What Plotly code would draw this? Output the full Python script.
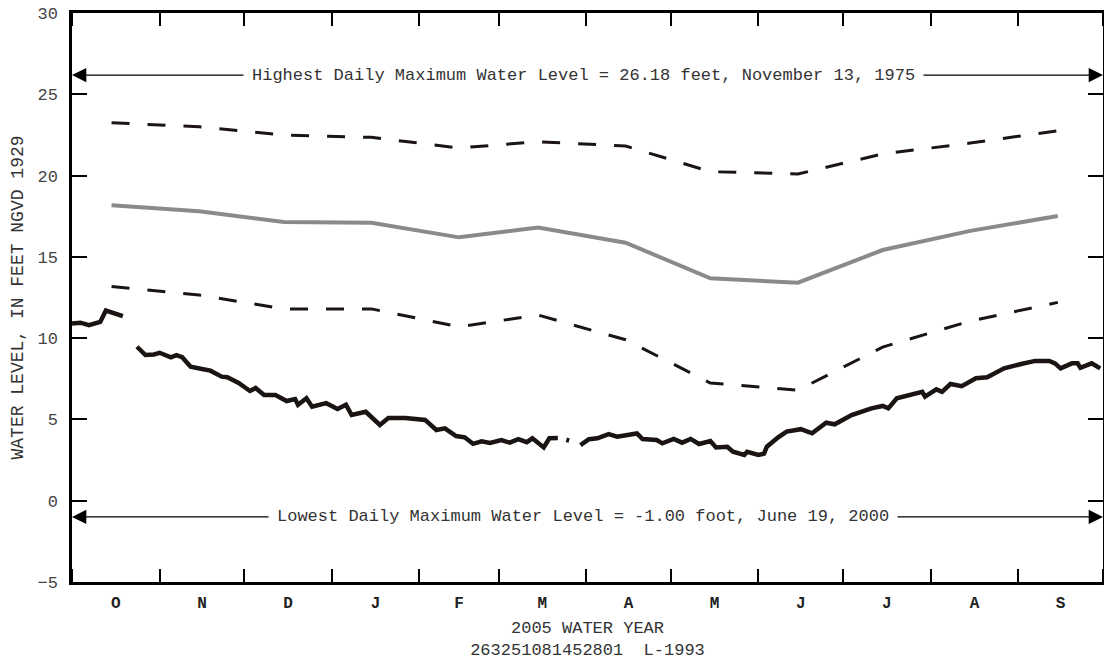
import plotly.graph_objects as go

# daily maximum water level, 2005 water year (None = missing record)
daily_dates = [
    "2004-10-01", "2004-10-04", "2004-10-07", "2004-10-09", "2004-10-11", "2004-10-13",
    "2004-10-16", "2004-10-19", "2004-10-21", "2004-10-24", "2004-10-27", "2004-10-30",
    "2004-11-01", "2004-11-05", "2004-11-07", "2004-11-09", "2004-11-12", "2004-11-16",
    "2004-11-19", "2004-11-23", "2004-11-25", "2004-11-29", "2004-12-03", "2004-12-05",
    "2004-12-08", "2004-12-12", "2004-12-16", "2004-12-19", "2004-12-20", "2004-12-23",
    "2004-12-25", "2004-12-30", "2005-01-03", "2005-01-06", "2005-01-08", "2005-01-13",
    "2005-01-18", "2005-01-21", "2005-01-27", "2005-02-03", "2005-02-07", "2005-02-10",
    "2005-02-14", "2005-02-17", "2005-02-20", "2005-02-23", "2005-02-26", "2005-03-02",
    "2005-03-05", "2005-03-08", "2005-03-11", "2005-03-13", "2005-03-17", "2005-03-19",
    "2005-03-22", "2005-03-24", "2005-03-25", "2005-03-26", "2005-03-28", "2005-03-30",
    "2005-04-02", "2005-04-05", "2005-04-09", "2005-04-12", "2005-04-16", "2005-04-19",
    "2005-04-21", "2005-04-26", "2005-04-28", "2005-05-02", "2005-05-05", "2005-05-08",
    "2005-05-11", "2005-05-15", "2005-05-17", "2005-05-21", "2005-05-23", "2005-05-27",
    "2005-05-28", "2005-06-01", "2005-06-03", "2005-06-04", "2005-06-08", "2005-06-11",
    "2005-06-16", "2005-06-20", "2005-06-25", "2005-06-28", "2005-07-04", "2005-07-11",
    "2005-07-15", "2005-07-17", "2005-07-20", "2005-07-25", "2005-07-29", "2005-07-30",
    "2005-08-03", "2005-08-05", "2005-08-08", "2005-08-12", "2005-08-17", "2005-08-21",
    "2005-08-24", "2005-08-27", "2005-09-02", "2005-09-07", "2005-09-12", "2005-09-14",
    "2005-09-16", "2005-09-20", "2005-09-22", "2005-09-23", "2005-09-27", "2005-09-30",
]
daily_level = [
    10.9, 10.95, 10.8, 10.9, 11.0, 11.7,
    11.5, 11.35, None, 9.47, 8.96, 9.0,
    9.1, 8.82, 8.96, 8.83, 8.24, 8.1,
    8.0, 7.63, 7.6, 7.24, 6.75, 6.93,
    6.5, 6.5, 6.13, 6.25, 5.9, 6.3,
    5.78, 6.0, 5.64, 5.9, 5.27, 5.47,
    4.66, 5.09, 5.09, 4.97, 4.35, 4.45,
    3.98, 3.9, 3.5, 3.65, 3.55, 3.73,
    3.57, 3.79, 3.6, 3.84, 3.28, 3.84,
    3.85, None, 3.75, 3.7, None, 3.42,
    3.78, 3.84, 4.1, 3.94, 4.04, 4.14,
    3.79, 3.73, 3.53, 3.8, 3.57, 3.8,
    3.49, 3.67, 3.28, 3.32, 3.01, 2.81,
    3.01, 2.81, 2.9, 3.32, 3.9, 4.25,
    4.4, 4.15, 4.8, 4.7, 5.27, 5.68,
    5.83, 5.68, 6.3, 6.5, 6.7, 6.4,
    6.85, 6.7, 7.18, 7.05, 7.53, 7.59,
    7.87, 8.14, 8.41, 8.6, 8.6, 8.45,
    8.14, 8.45, 8.45, 8.18, 8.45, 8.14,
]

# monthly statistics of period of record (mid-month)
month_mid = [
    "2004-10-15", "2004-11-15", "2004-12-15", "2005-01-15", "2005-02-15", "2005-03-15",
    "2005-04-15", "2005-05-15", "2005-06-15", "2005-07-15", "2005-08-15", "2005-09-15",
]
upper_level = [23.25, 23.0, 22.5, 22.35, 21.7, 22.08, 21.82, 20.24, 20.1, 21.33, 22.0, 22.76]
median_level = [18.17, 17.8, 17.14, 17.1, 16.2, 16.8, 15.87, 13.68, 13.41, 15.42, 16.6, 17.51]
lower_level = [13.17, 12.65, 11.8, 11.8, 10.7, 11.42, 9.9, 7.24, 6.8, 9.45, 11.05, 12.2]

month_abbr = ["Oct", "Nov", "Dec", "Jan", "Feb", "Mar", "Apr", "May", "Jun", "Jul", "Aug", "Sep"]
month_labels = ["O", "N", "D", "J", "F", "M", "A", "M", "J", "J", "A", "S"]

highest = 26.18
lowest = -1.00

mono = "Liberation Mono, Courier New, monospace"
ink = "#1a1512"
x_range = ["2004-10-01", "2005-10-01"]

fig = go.Figure()
fig.add_trace(go.Scatter(x=month_mid, y=upper_level, mode="lines",
                         line=dict(color=ink, width=3, dash="18px,18px")))
# median on the top tick axis (same range as bottom axis)
fig.add_trace(go.Scatter(x=month_mid, y=median_level, mode="lines", xaxis="x2",
                         line=dict(color="#8a8a8a", width=4)))
fig.add_trace(go.Scatter(x=month_mid, y=lower_level, mode="lines",
                         line=dict(color=ink, width=3, dash="18px,18px")))
fig.add_trace(go.Scatter(x=daily_dates, y=daily_level, mode="lines", connectgaps=False,
                         line=dict(color=ink, width=4.5)))

# extreme level arrows
for lvl, txt in [(highest, "Highest Daily Maximum Water Level = 26.18 feet, November 13, 1975"),
                 (lowest, "Lowest Daily Maximum Water Level = -1.00 foot, June 19, 2000")]:
    for end in x_range:
        fig.add_annotation(x=end, y=lvl, ax="2005-04-01", ay=lvl, axref="x", ayref="y",
                           text="", showarrow=True, arrowhead=2, arrowsize=2.2,
                           arrowwidth=1.3, arrowcolor="black", standoff=0)
    fig.add_annotation(x="2005-03-31", y=lvl, text=txt, showarrow=False,
                       bgcolor="white", borderpad=8,
                       font=dict(family=mono, size=17, color="#333333"))

fig.update_layout(
    width=1104, height=660,
    margin=dict(l=72, r=1, t=13, b=78),
    plot_bgcolor="white", paper_bgcolor="white",
    showlegend=False,
    font=dict(family=mono, color="#333333"),
    xaxis=dict(
        type="date", range=x_range, automargin=False,
        tick0="2004-10-01", dtick="M1", tickformat="%b", ticklabelmode="period",
        labelalias=dict(zip(month_abbr, month_labels)),
        ticks="inside", ticklen=13, tickwidth=2, tickcolor="black", ticklabelstandoff=4,
        tickfont=dict(family=mono, size=16, color="#222222", weight="bold"),
        showline=True, linewidth=2.5, linecolor="black", mirror="ticks",
        showgrid=False, zeroline=False,
        title=dict(text="2005 WATER YEAR<br>263251081452801  L-1993",
                   font=dict(family=mono, size=17, color="#333333"), standoff=12),
    ),
    xaxis2=dict(
        type="date", range=x_range, overlaying="x", side="top", anchor="y",
        automargin=False, tick0="2004-10-01", dtick="M1", showticklabels=False,
        ticks="inside", ticklen=13, tickwidth=2, tickcolor="black",
        showline=True, linewidth=2.5, linecolor="black",
        showgrid=False, zeroline=False,
    ),
    yaxis=dict(
        range=[-5, 30], dtick=5, ticks="inside", ticklen=15, tickwidth=2, tickcolor="black",
        automargin=False, ticklabelstandoff=8,
        showline=True, linewidth=2.5, linecolor="black", mirror="ticks",
        showgrid=False, zeroline=False,
        tickfont=dict(family=mono, size=17, color="#444444"),
        title=dict(text="WATER LEVEL, IN FEET NGVD 1929",
                   font=dict(family=mono, size=18, color="#333333"), standoff=10),
    ),
)

fig.write_html("out.html", config={"displayModeBar": False},
               post_script="document.body.style.margin = '0';")
